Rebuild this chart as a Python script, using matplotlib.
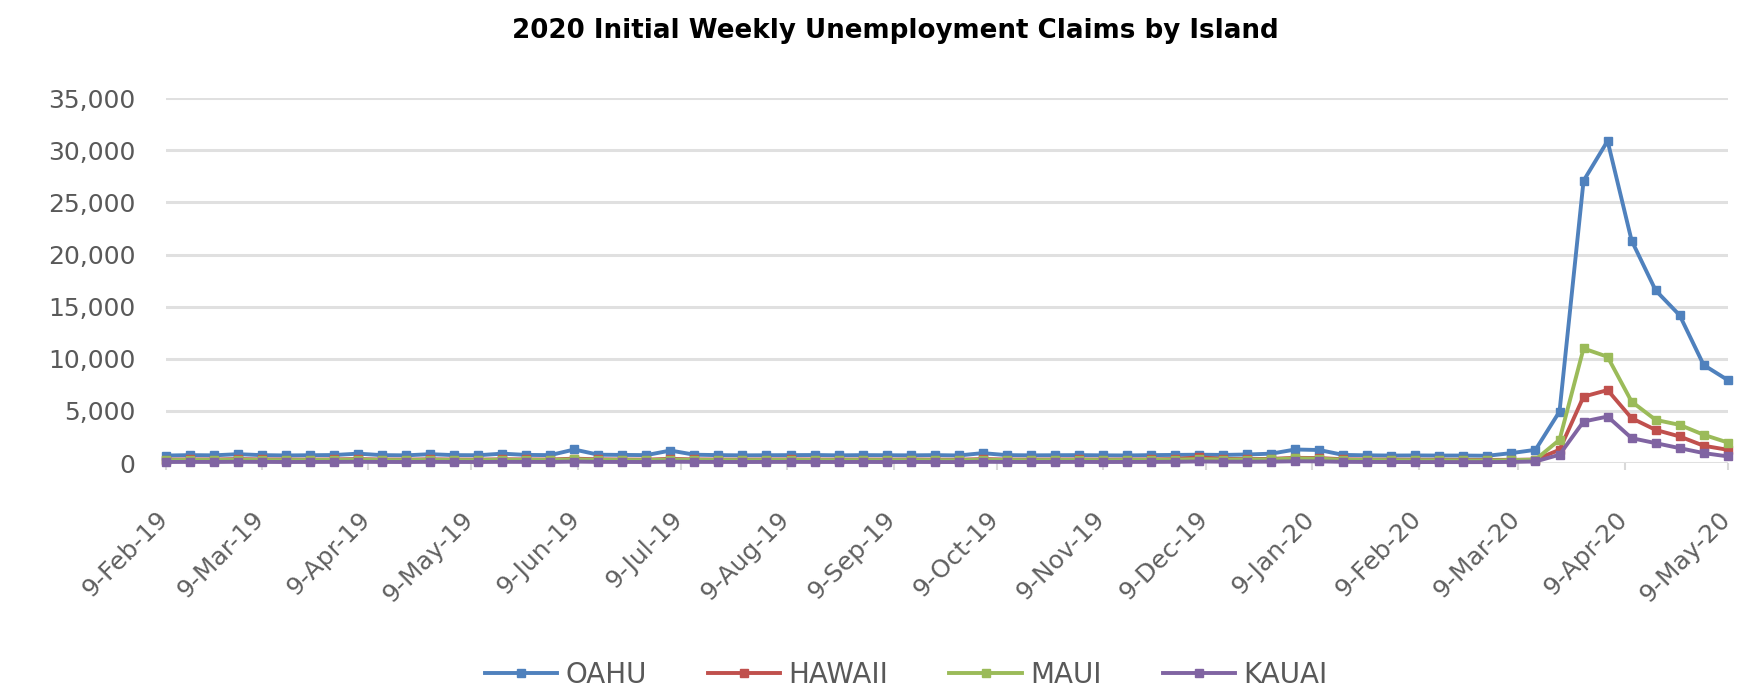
import matplotlib
matplotlib.use("Agg")
import matplotlib.pyplot as plt
import matplotlib.dates as mdates
import matplotlib.transforms as mtransforms
from matplotlib.ticker import FuncFormatter, MultipleLocator
import pandas as pd

# week ending dates (Saturdays), 9-Feb-19 .. 9-May-20
weeks = pd.date_range("2019-02-09", "2020-05-09", freq="7D")

oahu = [720, 760, 740, 850, 760, 730, 750, 770, 900, 760,
        740, 850, 760, 750, 900, 780, 760, 1300, 800, 780,
        760, 1200, 800, 760, 740, 750, 760, 770, 740, 760,
        750, 740, 760, 730, 950, 760, 740, 750, 760, 740,
        730, 760, 780, 800, 780, 820, 900, 1300, 1250, 780,
        740, 720, 730, 720, 720, 700,
        955, 1270, 4940, 27070, 30890, 21340, 16560, 14170, 9400, 7960]
hawaii = [330, 350, 340, 380, 350, 340, 330, 350, 380, 340,
          330, 360, 340, 330, 360, 350, 340, 420, 360, 340,
          330, 400, 350, 340, 330, 340, 350, 340, 330, 340,
          330, 340, 330, 320, 380, 340, 330, 340, 350, 330,
          340, 350, 380, 550, 400, 380, 400, 500, 480, 360,
          340, 330, 320, 320, 310, 300,
          310, 330, 1270, 6370, 7000, 4300, 3180, 2550, 1660, 1270]
maui = [280, 300, 290, 320, 290, 280, 290, 300, 330, 290,
        280, 310, 290, 280, 310, 300, 290, 360, 300, 290,
        280, 330, 300, 290, 280, 290, 300, 290, 280, 290,
        280, 290, 280, 270, 320, 290, 280, 290, 300, 280,
        290, 300, 320, 380, 340, 330, 350, 450, 420, 310,
        290, 280, 270, 270, 260, 250,
        280, 330, 2230, 10990, 10190, 5890, 4140, 3660, 2710, 1970]
kauai = [100, 110, 105, 120, 110, 100, 105, 110, 120, 105,
         100, 115, 105, 100, 115, 110, 105, 140, 110, 105,
         100, 130, 110, 105, 100, 105, 110, 105, 100, 105,
         100, 105, 100, 95, 120, 105, 100, 105, 110, 100,
         105, 110, 120, 150, 130, 125, 135, 170, 160, 115,
         105, 100, 95, 95, 90, 90,
         110, 150, 800, 3980, 4460, 2390, 1910, 1430, 955, 640]

series = [("OAHU", oahu, "#4F81BD"),
          ("HAWAII", hawaii, "#C0504D"),
          ("MAUI", maui, "#9BBB59"),
          ("KAUAI", kauai, "#8064A2")]

fig = plt.figure(figsize=(17.63, 6.86), dpi=100)
ax = fig.add_axes([0.094, 0.325, 0.886, 0.532])

for i, (name, vals, col) in enumerate(series):
    ax.plot(weeks, vals, color=col, lw=2.8, marker="s", ms=5.5,
            label=name, zorder=3 + i, clip_on=False)

ax.set_xlim(weeks[0], weeks[-1])
ax.set_ylim(0, 35000)
ax.yaxis.set_major_locator(MultipleLocator(5000))
ax.yaxis.set_major_formatter(FuncFormatter(lambda v, p: f"{v:,.0f}"))
ax.grid(axis="y", color="#E0E0E0", lw=2.2, zorder=0)
ax.set_axisbelow(True)
for s in ax.spines.values():
    s.set_visible(False)

ax.xaxis.set_major_locator(mdates.MonthLocator(bymonthday=9))
ax.xaxis.set_major_formatter(mdates.DateFormatter("9-%b-%y"))
ax.tick_params(axis="y", length=0, pad=22, labelsize=18, labelcolor="#595959")
ax.tick_params(axis="x", length=5, width=1.5, color="#D9D9D9", pad=26.5,
               labelsize=18, labelcolor="#606060")
# excel puts the rotated labels a little left of the tick
shift = mtransforms.ScaledTranslation(-10 / 100, 0, fig.dpi_scale_trans)
for lbl in ax.get_xticklabels():
    lbl.set_rotation(45)
    lbl.set_ha("right")
    lbl.set_va("top")
    lbl.set_rotation_mode("anchor")
    lbl.set_transform(lbl.get_transform() + shift)

fig.text(0.508, 0.955, "2020 Initial Weekly Unemployment Claims by Island",
         ha="center", va="center", fontsize=18.8, fontweight="bold")

fig.legend(loc="center", bbox_to_anchor=(0.514, 0.016), ncol=4, frameon=False,
           fontsize=20, handlelength=2.6, handletextpad=0.3, columnspacing=2.2,
           labelcolor="#595959")

fig.savefig("out.png", dpi=100)
